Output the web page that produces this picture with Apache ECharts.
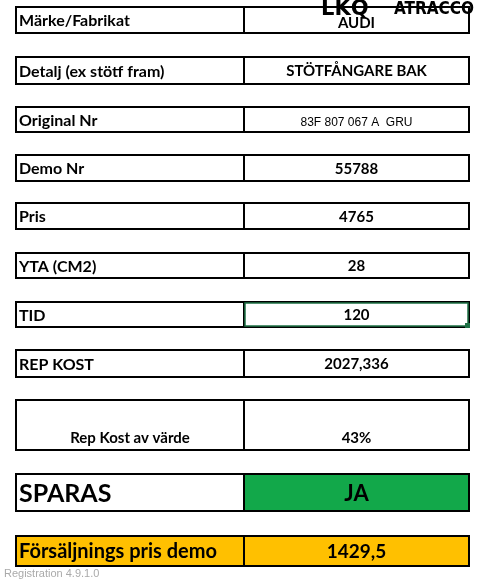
<!DOCTYPE html>
<html><head><meta charset="utf-8">
<script src="https://cdn.jsdelivr.net/npm/echarts@6/dist/echarts.min.js"></script>
<style>html,body{margin:0;padding:0;background:#fff}#c{width:479px;height:582px}</style>
</head><body><div id="c"></div>
<script>
const labels = ['Märke/Fabrikat','Detalj (ex stötf fram)','Original Nr','Demo Nr','Pris','YTA (CM2)','TID','REP KOST','Rep Kost av värde','SPARAS','Försäljnings pris demo'];
const values = ['AUDI','STÖTFÅNGARE BAK','83F 807 067 A  GRU','55788','4765','28','120','2027,336','43%','JA','1429,5'];
const rowTop = [7,57,107,155,203,253,302,350,400,474,536];
const rowBot = [33,84,132,181,229,278,327,377,450,511,566];

const chart = echarts.init(document.getElementById('c'));
const X0 = 16, XM = 244, X1 = 469;
const els = [];
const font = 'Lato, "Open Sans", sans-serif';
labels.forEach((lab, i) => {
  const t = rowTop[i], b = rowBot[i], h = b - t;
  let lfill = '#fff', rfill = '#fff';
  if (i === 9) rfill = '#12a84a';
  if (i === 10) { lfill = '#ffc000'; rfill = '#ffc000'; }
  els.push({type:'rect', shape:{x:X0,y:t,width:XM-X0,height:h}, style:{fill:lfill,stroke:'#000',lineWidth:2}});
  els.push({type:'rect', shape:{x:XM,y:t,width:X1-XM,height:h}, style:{fill:rfill,stroke:'#000',lineWidth:2}});
  let lsize = 16, vsize = 15, lalign = 'left', lx = X0 + 3, ly = (t + b) / 2 + 1, vy = ly;
  if (i === 8) { lalign = 'center'; lx = (X0 + XM) / 2; ly = b - 12; vy = b - 12; lsize = 15; }
  if (i === 9) { lsize = 25; vsize = 22; }
  if (i === 10) { lsize = 20; vsize = 19; }
  els.push({type:'text', style:{x:lx,y:ly,text:lab,font:`bold ${lsize}px ${font}`,fill:'#000',textAlign:lalign,textVerticalAlign:'middle'}});
  let vf = `bold ${vsize}px ${font}`;
  if (i === 2) vf = `normal 12px "Liberation Sans", Arial, sans-serif`;
  if (i === 0) vy = (t+b)/2 + 3;
  els.push({type:'text', style:{x:(XM+X1)/2, y:vy + (i===2?2:0), text:values[i], font:vf, fill:'#000', textAlign:'center', textVerticalAlign:'middle'}});
});
els.push({type:'rect', shape:{x:XM+1,y:rowTop[6]+1,width:X1-XM-2,height:rowBot[6]-rowTop[6]-2}, style:{fill:'none',stroke:'#1e7145',lineWidth:1.5}});
els.push({type:'rect', shape:{x:X1-4,y:rowBot[6]-4,width:5,height:5}, style:{fill:'#1e7145'}});
els.push({type:'text', style:{x:321,y:10,text:'LKQ',font:'900 21px "DejaVu Sans", sans-serif',fill:'#000',textVerticalAlign:'middle'}});
els.push({type:'text', style:{x:394,y:10,text:'ATRACCO',font:'bold 17px "DejaVu Sans Condensed", "DejaVu Sans", sans-serif',fill:'#000',textVerticalAlign:'middle'}});
els.push({type:'text', style:{x:4,y:574,text:'Registration 4.9.1.0',font:'11px "Liberation Sans", sans-serif',fill:'#aaa',textVerticalAlign:'middle'}});
chart.setOption({animation:false, graphic:{elements:els}});
</script></body></html>
